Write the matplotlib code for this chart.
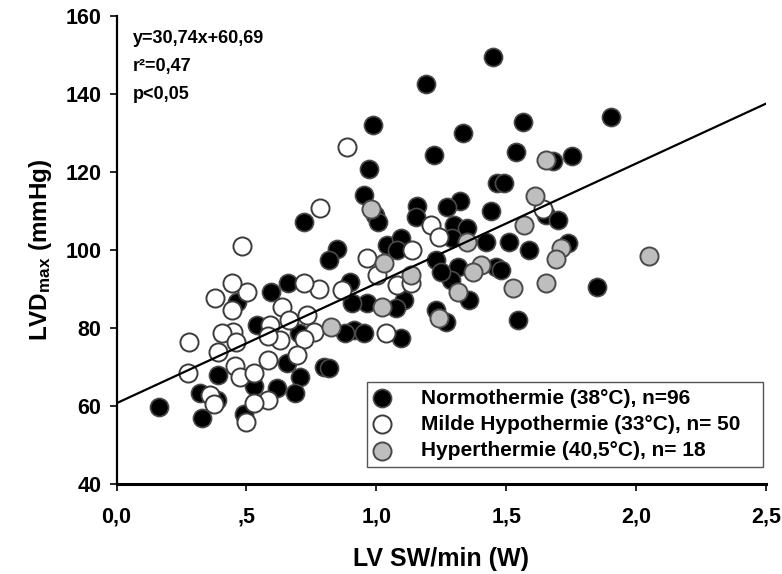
import numpy as np
import matplotlib
matplotlib.use("Agg")
import matplotlib.pyplot as plt

plt.rcParams['font.family'] = ['Liberation Sans', 'DejaVu Sans']
plt.rcParams['font.weight'] = 'bold'
plt.rcParams['mathtext.fontset'] = 'custom'
plt.rcParams['mathtext.rm'] = 'Liberation Sans:bold'
plt.rcParams['mathtext.it'] = 'Liberation Sans:bold'
plt.rcParams['mathtext.bf'] = 'Liberation Sans:bold'

# Normothermie (38°C)
normo_x = [1.448, 1.190, 0.987, 1.334, 1.564, 1.222, 1.539, 0.973, 1.464, 1.490,
           0.952, 1.680, 1.753, 1.905, 1.323, 1.158, 1.274, 1.441, 0.995, 1.005,
           0.723, 0.847, 0.818, 1.042, 1.096, 1.081, 0.900, 0.659, 0.595, 0.463,
           0.541, 0.701, 0.392, 0.656, 0.708, 0.798, 0.817, 0.528, 0.618, 0.688,
           0.322, 0.385, 0.165, 0.328, 0.489, 1.152, 1.300, 1.351, 1.293, 1.422,
           1.512, 1.654, 1.699, 1.737, 1.851, 1.589, 1.544, 1.461, 1.480, 1.313,
           1.287, 1.358, 1.229, 1.248, 1.229, 1.268, 1.107, 1.075, 0.965, 0.907,
           0.913, 0.952, 0.881, 1.094]
normo_y = [149.6, 142.6, 132.0, 130.1, 132.7, 124.4, 125.1, 120.8, 117.2, 117.2,
           114.1, 122.9, 124.0, 134.0, 112.6, 111.3, 111.0, 110.0, 109.0, 107.3,
           107.1, 100.2, 97.4, 101.3, 103.0, 100.0, 91.9, 91.5, 89.3, 86.7,
           80.8, 78.6, 68.0, 70.9, 67.5, 70.1, 69.7, 65.0, 64.5, 63.4,
           63.4, 61.5, 59.7, 56.8, 57.9, 108.5, 106.4, 105.6, 103.0, 102.1,
           102.1, 109.0, 107.7, 101.7, 90.4, 100.0, 82.0, 95.7, 94.9, 95.7,
           92.3, 87.2, 97.4, 94.4, 84.6, 81.6, 87.2, 85.0, 86.3, 86.3,
           79.5, 78.6, 78.6, 77.3]

# Milde Hypothermie (33°C)
hypo_x = [0.782, 0.483, 0.965, 1.004, 1.081, 0.869, 0.778, 0.720, 0.502, 0.444,
          0.380, 0.444, 0.637, 0.592, 0.663, 0.734, 0.759, 0.631, 0.720, 0.585,
          0.450, 0.405, 0.461, 0.392, 0.280, 0.277, 0.457, 0.476, 0.530, 0.585,
          0.695, 0.360, 0.375, 0.585, 0.528, 0.500, 1.210, 1.242, 1.640, 1.132,
          1.139, 1.036, 0.888]
hypo_y = [110.7, 101.1, 97.9, 93.6, 91.0, 89.7, 89.9, 91.6, 89.3, 91.5,
          87.6, 84.6, 85.3, 80.8, 82.1, 83.3, 79.0, 76.9, 77.1, 77.9,
          79.0, 78.6, 76.5, 73.9, 76.5, 68.4, 70.3, 67.5, 68.5, 71.8,
          73.0, 62.8, 60.5, 61.5, 60.7, 56.0, 106.4, 103.4, 110.5, 91.5,
          100.0, 78.6, 126.3]

# Hyperthermie (40,5°C)
hyper_x = [1.609, 1.655, 0.978, 1.030, 0.824, 1.351, 1.570, 1.712, 1.692, 1.654,
           2.049, 1.525, 1.403, 1.371, 1.313, 1.242, 1.132, 1.023]
hyper_y = [113.9, 123.0, 110.5, 96.6, 80.3, 102.1, 106.4, 100.4, 97.6, 91.5,
           98.5, 90.2, 96.2, 94.4, 89.3, 82.5, 93.6, 85.5]

slope, intercept = 30.74, 60.69
xticks = [0.0, 0.5, 1.0, 1.5, 2.0, 2.5]
xtick_labels = ['0,0', ',5', '1,0', '1,5', '2,0', '2,5']
yticks = [40, 60, 80, 100, 120, 140, 160]

fig = plt.figure(figsize=(7.82, 5.74), dpi=100)
ax = fig.add_axes([0.149, 0.157, 0.8305, 0.815])

ms = 170
ax.scatter(normo_x, normo_y, s=ms, c='black', edgecolors='#4a4a4a', linewidths=1.2,
           label='Normothermie (38°C), n=96', zorder=3)
ax.scatter(hypo_x, hypo_y, s=ms, c='white', edgecolors='#3c3c3c', linewidths=1.4,
           label='Milde Hypothermie (33°C), n= 50', zorder=3)
ax.scatter(hyper_x, hyper_y, s=ms, c='#bebebe', edgecolors='#4a4a4a', linewidths=1.4,
           label='Hyperthermie (40,5°C), n= 18', zorder=3)

xl = np.array([0.0, 2.5])
ax.plot(xl, slope * xl + intercept, color='black', lw=1.6, zorder=4)

ax.set_xlim(0, 2.5)
ax.set_ylim(40, 160)
ax.set_xticks(xticks)
ax.set_xticklabels(xtick_labels)
ax.set_yticks(yticks)
ax.tick_params(axis='both', direction='out', length=5, width=1.2, labelsize=15.5)
ax.tick_params(axis='x', pad=11)
ax.tick_params(axis='y', pad=6)
for s in ['top', 'right']:
    ax.spines[s].set_visible(False)
ax.spines['left'].set_linewidth(1.6)
ax.spines['bottom'].set_linewidth(2.2)

ax.set_xlabel('LV SW/min (W)', fontsize=18, fontweight='bold', labelpad=14)
ax.set_ylabel('LVD$_{max}$ (mmHg)', fontsize=17.5, fontweight='bold', labelpad=8)

ax.text(0.025, 0.953, 'y=30,74x+60,69', transform=ax.transAxes, fontsize=13,
        fontweight='bold', va='center')
ax.text(0.025, 0.893, 'r²=0,47', transform=ax.transAxes, fontsize=13,
        fontweight='bold', va='center')
ax.text(0.025, 0.833, 'p<0,05', transform=ax.transAxes, fontsize=13,
        fontweight='bold', va='center')

leg = ax.legend(loc='lower left', bbox_to_anchor=(0.385, 0.036, 0.61, 0.195),
                mode='expand', fancybox=False, edgecolor='#555555', framealpha=1,
                fontsize=15, labelspacing=0.35, handletextpad=1.4, borderpad=0.33,
                handlelength=0.87, borderaxespad=0)
leg.get_frame().set_linewidth(1.0)

fig.savefig('out.png', dpi=100)
